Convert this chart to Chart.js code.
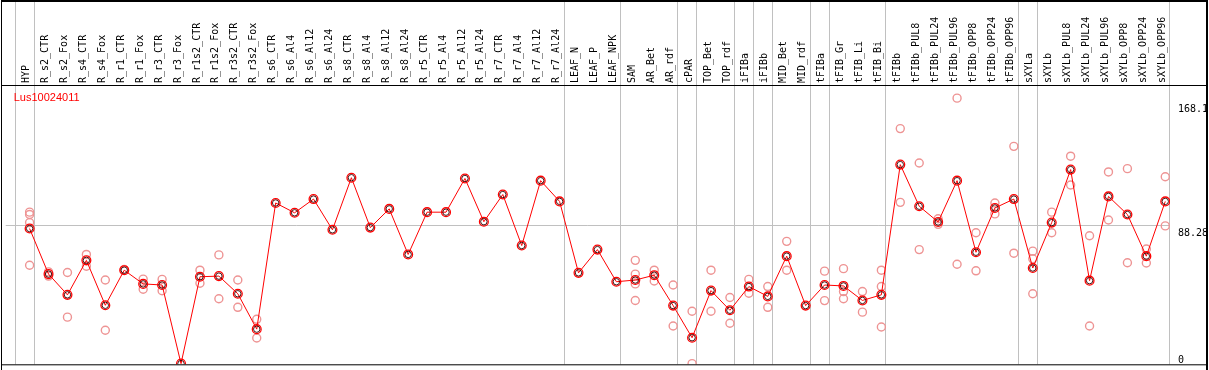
<!DOCTYPE html>
<html>
<head>
<meta charset="utf-8">
<title>Lus10024011</title>
<script src="https://cdn.jsdelivr.net/npm/chart.js@4.4.0/dist/chart.umd.min.js"></script>
<style>
  html, body { margin: 0; padding: 0; background: #fff; }
  canvas { display: block; }
</style>
</head>
<body>
<canvas id="grafico" width="1209" height="370"></canvas>
<script>
// Nombre del gen que se muestra arriba a la izquierda
const nombreGen = "Lus10024011";

// Muestras (eje x, etiquetas verticales)
const categorias = [
  "HYP", "R_s2_CTR", "R_s2_Fox", "R_s4_CTR", "R_s4_Fox", "R_r1_CTR", "R_r1_Fox",
  "R_r3_CTR", "R_r3_Fox", "R_r1s2_CTR", "R_r1s2_Fox", "R_r3s2_CTR", "R_r3s2_Fox",
  "R_s6_CTR", "R_s6_Al4", "R_s6_Al12", "R_s6_Al24", "R_s8_CTR", "R_s8_Al4", "R_s8_Al12",
  "R_s8_Al24", "R_r5_CTR", "R_r5_Al4", "R_r5_Al12", "R_r5_Al24", "R_r7_CTR", "R_r7_Al4",
  "R_r7_Al12", "R_r7_Al24", "LEAF_N", "LEAF_P", "LEAF_NPK", "SAM", "AR_Bet", "AR_rdf",
  "cPAR", "TOP_Bet", "TOP_rdf", "iFIBa", "iFIBb", "MID_Bet", "MID_rdf", "tFIBa",
  "tFIB_Gr", "tFIB_Li", "tFIB_Bi", "tFIBb", "tFIBb_PUL8", "tFIBb_PUL24", "tFIBb_PUL96",
  "tFIBb_OPP8", "tFIBb_OPP24", "tFIBb_OPP96", "sXYLa", "sXYLb", "sXYLb_PUL8",
  "sXYLb_PUL24", "sXYLb_PUL96", "sXYLb_OPP8", "sXYLb_OPP24", "sXYLb_OPP96"
];

// Media de expresión por muestra (línea roja)
const medias = [
  86.6, 57.4, 44.1, 66.2, 37.4, 59.9, 51.1, 50.4, 0, 55.7, 56.1, 44.8, 22.1,
  103.0, 96.7, 105.5, 85.8, 119.2, 87.2, 99.2, 70.0, 97.1, 97.1, 118.7, 91.0,
  108.4, 75.7, 117.3, 104.0, 58.2, 73.1, 52.5, 53.6, 56.7, 37.2, 16.6, 46.8,
  34.2, 49.4, 43.1, 68.9, 37.2, 50.4, 49.8, 40.5, 44.1, 127.6, 100.9, 90.8,
  117.3, 71.4, 99.8, 105.5, 61.3, 90.4, 124.4, 53.2, 107.2, 95.6, 68.9, 104.0
];

// Réplicas de cada muestra (círculos rosados); vacío = sin réplicas
const replicas = [
  [97.1, 95.6, 90.4, 63.1], [58.8, 56.1], [58.4, 29.8], [70.0, 62.4], [53.6, 21.4],
  [60.3], [54.2, 47.7], [54.0, 46.7], [], [59.9, 51.5], [69.7, 41.6], [53.6, 36.1],
  [28.4, 16.4],
  [], [], [], [], [], [], [], [], [], [], [], [], [], [], [], [], [], [], [],
  [66.2, 57.4, 51.1, 40.5], [59.9, 53.0], [50.4, 24.1], [33.6, 0.0], [59.9, 33.6],
  [42.4, 25.9], [54.0, 45.1], [49.4, 36.1], [78.4, 59.9], [], [59.3, 40.4],
  [60.9, 46.2, 41.6], [46.2, 33.0], [59.9, 49.4, 23.5], [150.7, 103.4], [128.6, 73.1],
  [92.9, 89.3], [170.2, 63.7], [83.9, 59.5], [103.0, 96.0], [139.3, 70.8],
  [72.1, 67.2, 44.8], [97.1, 83.9], [133.0, 114.5], [82.0, 24.1], [122.9, 92.1],
  [125.0, 64.7], [73.5, 64.5], [119.8, 88.3]
];

// Índice de la última muestra de cada grupo (líneas grises verticales)
const finGrupos = [-1, 0, 28, 31, 34, 35, 37, 38, 39, 41, 42, 45, 52, 53, 60];

// Etiquetas del eje derecho
const yTicks = [0, 88.28, 168.1];
const yTickLabels = ["0", "88.28", "168.1"];
const yLineaGris = 88.28;

// desplazamiento de las líneas de grupo respecto al punto (en unidades de muestra)
const OFFSET_GRUPO = 0.237;

const ROJO = "#ff0000";
const ROSA = "#ee9494";
const GRIS = "#c0c0c0";

// Puntos de la media y de las réplicas
const puntosMedia = medias.map((v, i) => ({ x: i, y: v }));
const puntosReplica = [];
replicas.forEach((lista, i) => {
  lista.forEach(v => puntosReplica.push({ x: i, y: v }));
});

// Plugin: fondo blanco, marco, nombre del gen y etiquetas del eje derecho
const marcoPlugin = {
  id: "marco",
  beforeDraw(chart) {
    const ctx = chart.ctx;
    ctx.save();
    ctx.fillStyle = "#fff";
    ctx.fillRect(0, 0, chart.width, chart.height);
    ctx.restore();
  },
  afterDraw(chart) {
    const ctx = chart.ctx;
    const area = chart.chartArea;
    const yScale = chart.scales.y;
    ctx.save();
    ctx.fillStyle = "#000";
    ctx.fillRect(1, 0, 1207, 2);                  // arriba
    ctx.fillRect(1, area.top - 1, 1207, 1);       // línea de cabecera
    ctx.fillRect(1, 0, 1, chart.height);          // izquierda
    ctx.fillRect(1206, 0, 2, chart.height);       // derecha
    ctx.fillRect(1, area.bottom, 1207, 1);        // abajo

    // nombre del gen
    ctx.fillStyle = ROJO;
    ctx.font = "11px 'Liberation Sans', Arial, sans-serif";
    ctx.textBaseline = "alphabetic";
    ctx.textAlign = "left";
    ctx.fillText(nombreGen, area.left + 8, area.top + 15);

    // etiquetas del eje y a la derecha
    ctx.fillStyle = "#000";
    ctx.font = "10px 'DejaVu Sans Mono', monospace";
    ctx.textBaseline = "top";
    yTicks.forEach((v, i) => {
      let py = yScale.getPixelForValue(v) + 2.5;
      py = Math.min(py, area.bottom - 9);
      ctx.fillText(yTickLabels[i], area.right + 8, py);
    });
    ctx.restore();
  }
};

const ticksX = [];
categorias.forEach((c, i) => ticksX.push(i));
finGrupos.forEach(i => ticksX.push(i + OFFSET_GRUPO));
ticksX.sort((a, b) => a - b);

new Chart(document.getElementById("grafico"), {
  type: "line",
  data: {
    datasets: [
      {
        // anillo interior oscuro de las medias
        data: puntosMedia,
        showLine: false,
        pointRadius: 3.2,
        pointBorderWidth: 0.9,
        pointBorderColor: "#300000",
        pointBackgroundColor: "rgba(0,0,0,0)",
        order: 0
      },
      {
        data: puntosMedia,
        borderColor: ROJO,
        borderWidth: 1,
        tension: 0,
        pointRadius: 4.4,
        pointBorderWidth: 1.3,
        pointBorderColor: ROJO,
        pointBackgroundColor: "rgba(0,0,0,0)",
        order: 1
      },
      {
        data: puntosReplica,
        showLine: false,
        pointRadius: 4,
        pointBorderWidth: 1.4,
        pointBorderColor: ROSA,
        pointBackgroundColor: "rgba(0,0,0,0)",
        order: 2
      }
    ]
  },
  options: {
    responsive: false,
    animation: false,
    devicePixelRatio: 1,
    layout: { padding: { left: 2, right: 2, top: 0, bottom: 1 } },
    plugins: {
      legend: { display: false },
      tooltip: { enabled: false }
    },
    scales: {
      x: {
        type: "linear",
        position: "top",
        min: -1.263,
        max: 60.25,
        afterBuildTicks(scale) {
          scale.ticks = ticksX.map(v => ({ value: v }));
        },
        afterFit(scale) {
          scale.height = 86;
        },
        border: { display: false },
        grid: {
          drawTicks: true,
          tickLength: 86,
          lineWidth: 1,
          color: (c) => (c.tick && !Number.isInteger(c.tick.value)) ? GRIS : "rgba(0,0,0,0)"
        },
        ticks: {
          autoSkip: false,
          minRotation: 90,
          maxRotation: 90,
          padding: -83,
          labelOffset: 9,
          color: "#000",
          font: { family: "'DejaVu Sans Mono', monospace", size: 10 },
          callback: (value) => Number.isInteger(value) ? categorias[value] : ""
        }
      },
      y: {
        type: "linear",
        position: "right",
        min: -0.44,
        max: 178.0,
        afterBuildTicks(scale) {
          scale.ticks = [{ value: yLineaGris }];
        },
        afterFit(scale) {
          scale.width = 37;
        },
        border: { display: false },
        grid: { color: GRIS, drawTicks: false },
        ticks: { display: false }
      }
    }
  },
  plugins: [marcoPlugin]
});
</script>
</body>
</html>
